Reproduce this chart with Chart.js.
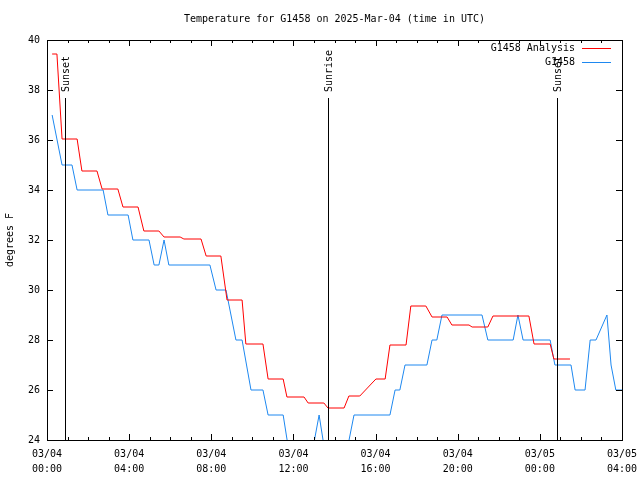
<!DOCTYPE html>
<html>
<head>
<meta charset="utf-8">
<script src="https://cdn.jsdelivr.net/npm/chart.js@4/dist/chart.umd.min.js"></script>
<style>
  body { margin: 0; background: #fff; }
  #wrap { width: 640px; height: 480px; }
</style>
</head>
<body>
<div id="wrap"><canvas id="tempChart" width="640" height="480"></canvas></div>
<script>
// minutes since 03/04 00:00 UTC
const analysisTimes = [15, 29, 44, 88, 102, 146, 161, 207, 222, 266, 283, 327, 342, 389, 400, 450, 465, 508,
    526, 570, 581, 631, 646, 690, 701, 751, 763, 809, 821, 868, 882, 914, 961, 988, 1002, 1049, 1063, 1107,
    1125, 1169, 1183, 1233, 1242, 1288, 1303, 1408, 1423, 1470, 1481, 1528];
const analysisTemps = [39.44, 39.44, 36.04, 36.04, 34.76, 34.76, 34.04, 34.04, 33.32, 33.32, 32.36, 32.36,
    32.12, 32.12, 32.04, 32.04, 31.36, 31.36, 29.6, 29.6, 27.84, 27.84, 26.44, 26.44, 25.72, 25.72, 25.48,
    25.48, 25.28, 25.28, 25.76, 25.76, 26.44, 26.44, 27.8, 27.8, 29.36, 29.36, 28.92, 28.92, 28.6, 28.6,
    28.52, 28.52, 28.96, 28.96, 27.84, 27.84, 27.24, 27.24];

const obsTimes = [15, 44, 73, 88, 164, 178, 237, 251, 298, 313, 327, 342, 356, 476, 494, 523, 552, 570, 596,
    631, 646, 690, 713, 768, 795, 818, 868, 897, 1002, 1017, 1031, 1046, 1110, 1125, 1139, 1154, 1271, 1288,
    1362, 1376, 1391, 1470, 1484, 1531, 1543, 1572, 1587, 1604, 1636, 1648, 1662, 1680];
const obsTemps = [37, 35, 35, 34, 34, 33, 33, 32, 32, 31, 31, 32, 31, 31, 30, 30, 28, 28, 26, 26, 25, 25,
    23, 23, 25, 23, 23, 25, 25, 26, 26, 27, 27, 28, 28, 29, 29, 28, 28, 29, 28, 28, 27, 27, 26, 26, 28, 28,
    29, 27, 26, 26];

const sunTimes = [53, 821, 1490];
const sunLabels = ['Sunset', 'Sunrise', 'Sunset'];

const seriesNames = ['G1458 Analysis', 'G1458'];
const seriesColors = ['#ff0000', '#1e88f0'];

const titleText = 'Temperature for G1458 on 2025-Mar-04 (time in UTC)';
const yTicks = [24, 26, 28, 30, 32, 34, 36, 38, 40];

const FONT = 'DejaVu Sans Mono';

function toPoints(ts, vs) {
    return ts.map((t, i) => ({x: t, y: vs[i]}));
}

function pad(n) { return (n < 10 ? '0' : '') + n; }

// gnuplot-like extras: title, box, inward ticks, sun markers, key
const gnuplotLook = {
    id: 'gnuplotLook',
    afterDraw(chart) {
        const ctx = chart.ctx;
        const a = chart.chartArea;
        const xs = chart.scales.x, ys = chart.scales.y;
        ctx.save();
        ctx.strokeStyle = '#000';
        ctx.fillStyle = '#000';
        ctx.lineWidth = 1;

        // title
        ctx.font = '10px "' + FONT + '"';
        ctx.textAlign = 'center';
        ctx.textBaseline = 'middle';
        ctx.fillText(titleText, (a.left + a.right) / 2, 19);

        // sun events
        sunTimes.forEach((t, i) => {
            const px = Math.round(xs.getPixelForValue(t)) + 0.5;
            ctx.beginPath();
            ctx.moveTo(px, 98);
            ctx.lineTo(px, a.bottom);
            ctx.stroke();
            ctx.save();
            ctx.translate(px + 1, 92);
            ctx.rotate(-Math.PI / 2);
            ctx.textAlign = 'left';
            ctx.textBaseline = 'middle';
            ctx.fillText(sunLabels[i], 0, 0);
            ctx.restore();
        });

        // border
        ctx.strokeRect(Math.round(a.left) + 0.5, Math.round(a.top) + 0.5,
            Math.round(a.right - a.left), Math.round(a.bottom - a.top));

        // x ticks, inward, top and bottom
        ctx.beginPath();
        xs.ticks.forEach(tk => {
            const px = Math.round(xs.getPixelForValue(tk.value)) + 0.5;
            const len = tk.value % 240 === 0 ? 6 : 3;
            ctx.moveTo(px, a.bottom);
            ctx.lineTo(px, a.bottom - len);
            ctx.moveTo(px, a.top);
            ctx.lineTo(px, a.top + len);
        });
        // y ticks, inward, left and right
        ys.ticks.forEach(tk => {
            const py = Math.round(ys.getPixelForValue(tk.value)) + 0.5;
            ctx.moveTo(a.left, py);
            ctx.lineTo(a.left + 6, py);
            ctx.moveTo(a.right, py);
            ctx.lineTo(a.right - 6, py);
        });
        ctx.stroke();

        // key
        ctx.textAlign = 'right';
        ctx.textBaseline = 'middle';
        chart.data.datasets.forEach((ds, i) => {
            const y = 48 + i * 14;
            ctx.fillStyle = '#000';
            ctx.fillText(ds.label, 575, y);
            ctx.strokeStyle = ds.borderColor;
            ctx.beginPath();
            ctx.moveTo(582, y + 0.5);
            ctx.lineTo(611, y + 0.5);
            ctx.stroke();
        });
        ctx.restore();
    }
};

const ctx = document.getElementById('tempChart').getContext('2d');
new Chart(ctx, {
    type: 'line',
    data: {
        datasets: [
            {
                label: seriesNames[0],
                data: toPoints(analysisTimes, analysisTemps),
                borderColor: seriesColors[0],
                borderWidth: 1,
                pointRadius: 0,
                tension: 0,
                fill: false
            },
            {
                label: seriesNames[1],
                data: toPoints(obsTimes, obsTemps),
                borderColor: seriesColors[1],
                borderWidth: 1,
                pointRadius: 0,
                tension: 0,
                fill: false
            }
        ]
    },
    options: {
        responsive: false,
        animation: false,
        layout: { padding: { top: 40, right: 18, left: 0, bottom: 0 } },
        plugins: {
            legend: { display: false },
            title: { display: false },
            tooltip: { enabled: false }
        },
        scales: {
            x: {
                type: 'linear',
                min: 0,
                max: 1680,
                grid: { display: false, drawTicks: false },
                border: { display: false },
                afterFit: s => { s.height = 40; s.paddingLeft = 0; s.paddingRight = 0; },
                ticks: {
                    stepSize: 60,
                    autoSkip: false,
                    maxRotation: 0,
                    padding: 6.5,
                    color: '#000',
                    font: { family: FONT, size: 10, lineHeight: '15px' },
                    callback: v => {
                        if (v % 240 !== 0) return '';
                        const day = 4 + Math.floor(v / 1440);
                        const m = v % 1440;
                        return ['03/' + pad(day), pad(Math.floor(m / 60)) + ':' + pad(m % 60)];
                    }
                }
            },
            y: {
                min: yTicks[0],
                max: yTicks[yTicks.length - 1],
                grid: { display: false, drawTicks: false },
                border: { display: false },
                afterFit: s => { s.width = 47; s.paddingTop = 0; s.paddingBottom = 0; },
                afterBuildTicks: s => { s.ticks = yTicks.map(v => ({value: v})); },
                title: {
                    display: true,
                    text: 'degrees F',
                    color: '#000',
                    padding: 4,
                    font: { family: FONT, size: 10 }
                },
                ticks: {
                    padding: 7,
                    color: '#000',
                    font: { family: FONT, size: 10 }
                }
            }
        }
    },
    plugins: [gnuplotLook]
});
</script>
</body>
</html>
